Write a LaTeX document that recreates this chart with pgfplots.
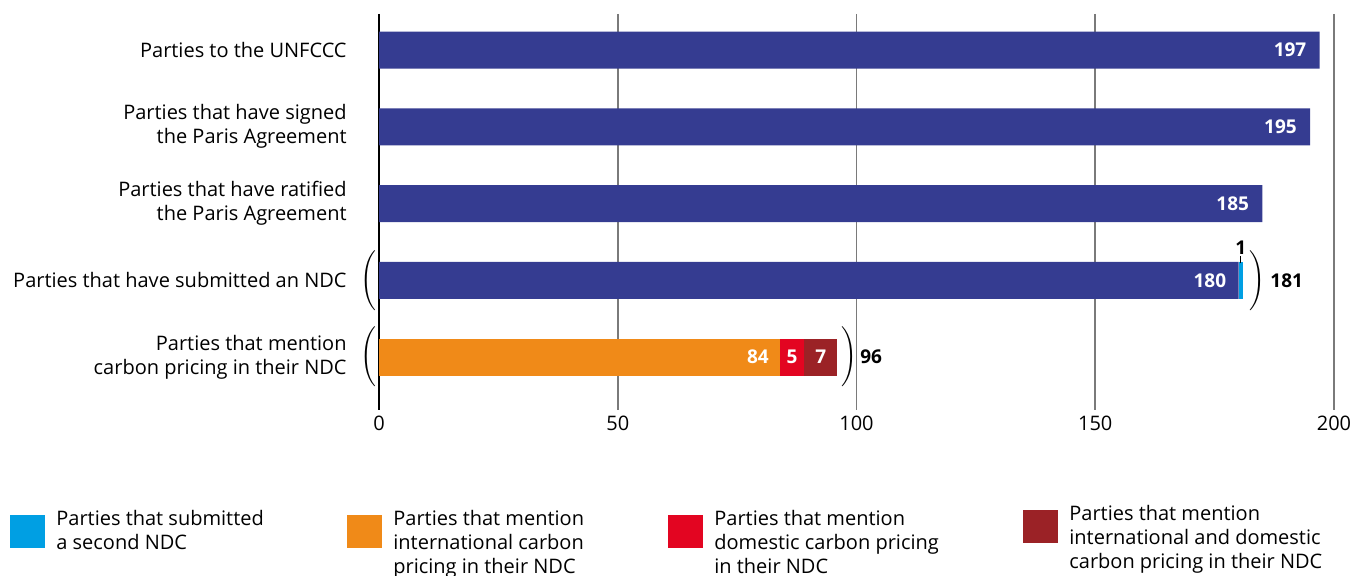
\documentclass[border=0pt]{standalone}
\usepackage{pgfplots}
\pgfplotsset{compat=1.18}
\usepackage{fontspec}
\setmainfont{Open Sans}
\definecolor{navy}{HTML}{353C91}
\definecolor{lblue}{HTML}{009FE3}
\definecolor{orng}{HTML}{F08A18}
\definecolor{rred}{HTML}{E30521}
\definecolor{dred}{HTML}{9B2226}
\definecolor{gridg}{HTML}{7A7A7A}
\tikzset{blab/.style={font=\fontsize{9.5}{12}\selectfont\bfseries, inner sep=0pt}}
\pgfplotsset{raisedsq/.style={legend image code/.code={\fill[##1] (0pt,-8.5pt) rectangle (17.5pt,8pt);}}}
\begin{document}
\begin{tikzpicture}
\path[use as bounding box] (0,0) rectangle (676.5pt,288pt);
\begin{axis}[
  at={(189.5pt,83pt)}, anchor=south west,
  scale only axis, width=477.5pt, height=198pt,
  xbar stacked, bar width=18.5pt,
  xmin=0, xmax=200, ymin=-0.47, ymax=4.69, y dir=reverse,
  axis line style={draw=none}, major tick length=0pt,
  xtick={0,50,100,150,200},
  xmajorgrids, grid style={gridg, line width=0.8pt},
  ytick={0,1,2,3,4},
  yticklabels={Parties to the UNFCCC,{Parties that have signed\\the Paris Agreement},{Parties that have ratified\\the Paris Agreement},Parties that have submitted an NDC,{Parties that mention\\carbon pricing in their NDC}},
  yticklabel style={font=\fontsize{10}{12}\selectfont, align=right, inner sep=0pt, xshift=-16pt},
  xticklabel style={font=\fontsize{10}{12}\selectfont, inner sep=0pt, yshift=-3pt},
  /pgf/number format/assume math mode=true,
  clip=false,
  legend style={at={(-0.3864,-0.2399)}, anchor=north west, draw=none, fill=none,
    inner sep=0pt, legend columns=4, font=\fontsize{10}{12}\selectfont,
    nodes={inner sep=0pt, anchor=base west},
    /tikz/every odd column/.append style={column sep=5.5pt},
    /tikz/every even column/.append style={column sep=0pt}},
  legend image code/.code={\fill[#1] (0pt,-11pt) rectangle (17.5pt,5.5pt);},
]
\addplot[fill=navy, draw=none, forget plot] coordinates {(197,0) (195,1) (185,2) (180,3) (0,4)};
\addplot[fill=lblue, draw=none] coordinates {(0,0) (0,1) (0,2) (1,3) (0,4)};
\addlegendentry{\parbox[t]{145.5pt}{Parties that submitted\\a second NDC}}
\addplot[fill=orng, draw=none] coordinates {(0,0) (0,1) (0,2) (0,3) (84,4)};
\addlegendentry{\parbox[t]{137.5pt}{Parties that mention\\international carbon\\pricing in their NDC}}
\addplot[fill=rred, draw=none] coordinates {(0,0) (0,1) (0,2) (0,3) (5,4)};
\addlegendentry{\parbox[t]{154.5pt}{Parties that mention\\domestic carbon pricing\\in their NDC}}
\addplot[fill=dred, draw=none, raisedsq] coordinates {(0,0) (0,1) (0,2) (0,3) (7,4)};
\addlegendentry{\raisebox{2.5pt}{\parbox[t]{142pt}{Parties that mention\\international and domestic\\carbon pricing in their NDC}}}

\draw[black, line width=0.8pt] (axis cs:0,-0.47) -- (axis cs:0,4.69);

\coordinate (a0) at (axis cs:197,0);
\coordinate (a1) at (axis cs:195,1);
\coordinate (a2) at (axis cs:185,2);
\coordinate (a3) at (axis cs:180,3);
\coordinate (a3b) at (axis cs:180.5,3);
\coordinate (b84) at (axis cs:84,4);
\coordinate (b5) at (axis cs:86.5,4);
\coordinate (b7) at (axis cs:92.5,4);
\coordinate (t181) at (axis cs:186.6,3);
\coordinate (t96) at (axis cs:100.7,4);
\node[inner sep=0pt] at (axis cs:-2,3) {$\left(\vrule height 12pt depth 12pt width 0pt\right.$};
\node[inner sep=0pt] at (axis cs:183.7,3) {$\left.\vrule height 12pt depth 12pt width 0pt\right)$};
\node[inner sep=0pt] at (axis cs:-2,4) {$\left(\vrule height 12pt depth 12pt width 0pt\right.$};
\node[inner sep=0pt] at (axis cs:98.2,4) {$\left.\vrule height 12pt depth 12pt width 0pt\right)$};
\end{axis}
\node[blab, white, anchor=east, xshift=-6.5pt] at (a0) {197};
\node[blab, white, anchor=east, xshift=-6.5pt] at (a1) {195};
\node[blab, white, anchor=east, xshift=-6.5pt] at (a2) {185};
\node[blab, white, anchor=east, xshift=-6pt] at (a3) {180};
\node[blab, white, anchor=east, xshift=-5.5pt] at (b84) {84};
\node[blab, white] at (b5) {5};
\node[blab, white] at (b7) {7};
\node[blab, black, anchor=west] at (t181) {181};
\node[blab, black, anchor=west] at (t96) {96};
\draw[black, line width=0.5pt] ([yshift=8.5pt]a3b) -- ([yshift=12pt]a3b);
\node[blab, black, anchor=south] at ([yshift=12.5pt]a3b) {1};
\end{tikzpicture}
\end{document}
